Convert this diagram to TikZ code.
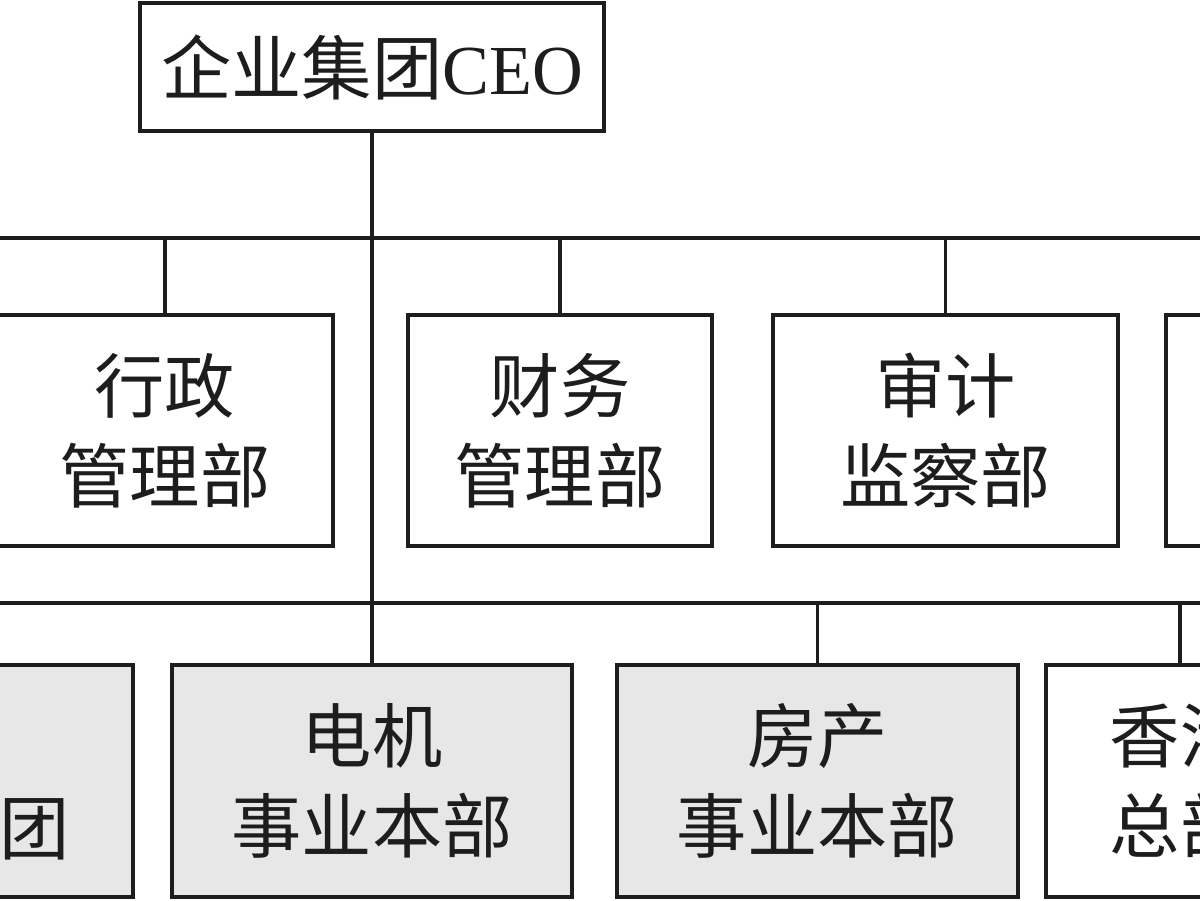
\documentclass[tikz,border=0pt]{standalone}
\usepackage{fontspec}
\setmainfont{Liberation Serif}
\newfontfamily\cjk{Noto Sans CJK SC}
\usetikzlibrary{positioning}
\definecolor{colortext} {RGB}{30 ,28 ,28 }
\definecolor{colorunit} {RGB}{231,231,231}

\begin{document}
\begin{tikzpicture}[
    x=0.02cm, y=-0.02cm,
    font={\fontsize{40}{51}\selectfont\cjk},
    base/.style={text=colortext,draw=colortext,line width=2.3pt,inner sep=0pt,align=center,rectangle},
    dept/.style={base,fill=white,minimum height=4.62cm},
    unit/.style={base,fill=colorunit,minimum height=4.64cm},
    link/.style={draw=colortext,line width=1.9pt},
]
    \useasboundingbox (0,0) rectangle (1200,900);
    \clip (0,0) rectangle (1200,900);

    % Buses
    \coordinate (bus1) at (372,238);
    \coordinate (bus2) at (372,603);
    \draw[link] (-20,238) -- (1220,238);
    \draw[link] (-20,603) -- (1220,603);

    % Head
    \node[base,fill=white,minimum width=9.28cm,minimum height=2.56cm] at (372,67) (ceo) {企业集团{\rmfamily CEO}};

    % Departments
    \node[dept,minimum width=6.72cm] at (165,430.5)  (admin)   {行政\\管理部};
    \node[dept,minimum width=6.08cm] at (560,430.5)  (finance) {财务\\管理部};
    \node[dept,minimum width=6.90cm] at (945.5,430.5) (audit)  {审计\\监察部};
    \node[dept,minimum width=6.72cm] at (1334,430.5) (other)   {};

    % Business units
    \node[unit,minimum width=8.00cm] at (-67,781)   (group)  {};
    \node[anchor=east,text=colortext] at (76,828)   (grouptxt) {集团};
    \node[unit,minimum width=8.00cm] at (372,781)   (motor)  {电机\\事业本部};
    \node[unit,minimum width=8.02cm] at (817.5,781) (estate) {房产\\事业本部};
    \node[dept,minimum width=5.36cm,minimum height=4.64cm] at (1180,781) (hk) {香港\\总部};

    % Links
    \draw[link] (ceo.south) -- (motor.north);
    \foreach \d in {admin,finance,audit,other}
        \draw[link] (\d.north) -- (\d |- bus1);
    \foreach \u in {group,estate,hk}
        \draw[link] (\u.north) -- (\u |- bus2);

\end{tikzpicture}
\end{document}
